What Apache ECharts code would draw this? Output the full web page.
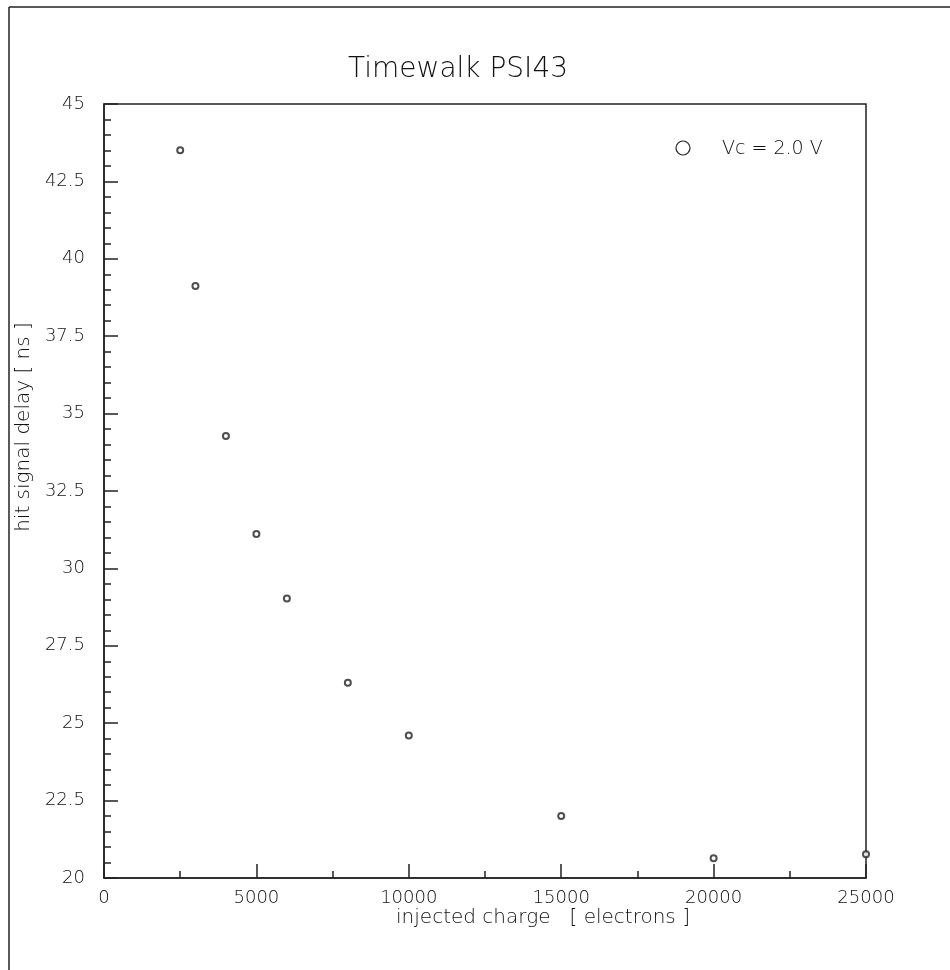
<!DOCTYPE html>
<html>
<head>
<meta charset="utf-8">
<script src="https://cdn.jsdelivr.net/npm/echarts@6/dist/echarts.min.js"></script>
<style>
html,body{margin:0;padding:0;background:#fff;}
#chart{width:950px;height:970px;}
</style>
</head>
<body>
<div id="chart"></div>
<script>
// Data
const charge = [2500, 3000, 4000, 5000, 6000, 8000, 10000, 15000, 20000, 25000];
const delay  = [43.51, 39.12, 34.28, 31.11, 29.03, 26.31, 24.60, 22.00, 20.64, 20.77];
const seriesName = 'Vc = 2.0 V';
const titleText = 'Timewalk PSI43';
const xName = 'injected charge   [ electrons ]';
const yName = 'hit signal delay [ ns ]';

const FONT = '"DejaVu Sans ExtraLight", "DejaVu Sans", sans-serif';
const TXT = '#111';
const LINE = '#222';

const chart = echarts.init(document.getElementById('chart'), null, {renderer: 'canvas'});
chart.setOption({
  animation: false,
  backgroundColor: '#fff',
  title: {
    text: titleText,
    left: 453, top: 51, textAlign: 'center',
    textStyle: {fontFamily: FONT, fontSize: 28, fontWeight: 'lighter', color: TXT}
  },
  legend: {
    left: 712, top: 135,
    data: [{name: seriesName, icon: 'none'}],
    itemWidth: 0, itemHeight: 0, itemGap: 0,
    textStyle: {fontFamily: FONT, fontSize: 19, fontWeight: 'lighter', color: TXT}
  },
  grid: {
    left: 104, top: 104, right: 84, bottom: 92,
    show: true, borderColor: LINE, borderWidth: 1.5, backgroundColor: 'transparent'
  },
  xAxis: {
    type: 'value', min: 0, max: 25000, interval: 5000,
    axisLine: {show: true, lineStyle: {color: LINE, width: 1.5}},
    axisTick: {show: true, inside: true, length: 14, lineStyle: {color: LINE, width: 1.5}},
    minorTick: {show: true, splitNumber: 2, length: 7, lineStyle: {color: LINE, width: 1.5}},
    splitLine: {show: false},
    axisLabel: {fontFamily: FONT, fontSize: 18, fontWeight: 'lighter', color: TXT, margin: 11,
                formatter: v => String(v)}
  },
  yAxis: {
    type: 'value', min: 20, max: 45, interval: 2.5,
    axisLine: {show: true, lineStyle: {color: LINE, width: 1.5}},
    axisTick: {show: true, inside: true, length: 14, lineStyle: {color: LINE, width: 1.5}},
    minorTick: {show: true, splitNumber: 5, length: 7, lineStyle: {color: LINE, width: 1.5}},
    splitLine: {show: false},
    axisLabel: {fontFamily: FONT, fontSize: 18, fontWeight: 'lighter', color: TXT, margin: 19,
                formatter: v => String(v)}
  },
  graphic: [
    {type: 'line', shape: {x1: 9, y1: 7, x2: 950, y2: 7}, style: {stroke: LINE, lineWidth: 1.5}},
    {type: 'line', shape: {x1: 9, y1: 7, x2: 9, y2: 970}, style: {stroke: LINE, lineWidth: 1.5}},
    {type: 'circle', shape: {cx: 683, cy: 148, r: 7}, style: {fill: 'none', stroke: LINE, lineWidth: 1.2}},
    {type: 'text', x: 543, y: 918,
     style: {text: xName, fontFamily: FONT, fontSize: 20, fontWeight: 'lighter', fill: TXT,
             align: 'center', verticalAlign: 'middle'}},
    {type: 'text', x: 24, y: 427, rotation: Math.PI / 2,
     style: {text: yName, fontFamily: FONT, fontSize: 20, fontWeight: 'lighter', fill: TXT,
             align: 'center', verticalAlign: 'middle'}}
  ],
  series: [{
    name: seriesName,
    type: 'scatter',
    symbol: 'emptyCircle',
    symbolSize: 6,
    itemStyle: {color: LINE, borderColor: LINE, borderWidth: 1.2},
    data: charge.map((c, i) => [c, delay[i]])
  }]
});
</script>
</body>
</html>
